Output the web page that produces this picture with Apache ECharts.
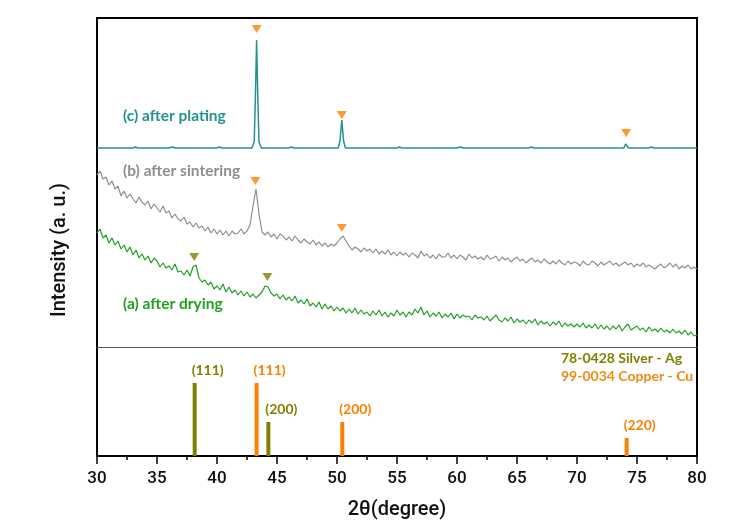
<!DOCTYPE html>
<html>
<head>
<meta charset="utf-8">
<script src="https://cdn.jsdelivr.net/npm/echarts@6/dist/echarts.min.js"></script>
<style>html,body{margin:0;padding:0;background:#fff;}#main{width:750px;height:525px;}</style>
</head>
<body>
<div id="main"></div>
<script>
// ---- data ----
const thetaStart = 30;      // first sample of the scanned patterns (degrees)
const thetaStep = 0.25;     // sampling step of the scanned patterns (degrees)

// (a) after drying — intensity, offset units
const dryingValues = [
114,118,109,112, 104,109,102,106, 98,102,95,100, 92,97,89,93, 87,91,84,89,
86,80,84,79, 81,77,83,75, 76,72,77,71, 80,82,69,65, 67,62,65,58,
61,57,63,55, 60,54,57,52, 56,51,55,50, 53,49,52,55, 61,60,54,51,
53,48,52,47, 50,46,51,44, 47,43,48,41, 44,40,45,38, 43,38,41,36,
40,36,39,34, 38,34,39,33, 37,33,35,31, 36,32,37,31, 35,30,34,31,
37,32,35,30, 35,32,38,34, 40,32,36,30, 34,31,35,29, 33,30,34,28,
33,29,32,30, 31,27,32,29, 30,27,31,26, 29,32,27,25, 29,26,30,24,
28,25,27,23, 27,24,28,22, 26,23,25,21, 25,22,26,20, 24,21,23,20,
23,20,24,19, 22,19,23,18, 22,18,21,17, 21,18,22,16, 20,23,17,19,
21,17,19,15, 20,16,18,15, 19,15,17,14, 18,14,16,13, 17,12,15,11,
12
];

// (b) after sintering
const sinteringValues = [
172,176,168,170, 162,166,158,161, 151,156,149,153, 148,144,150,145, 142,146,138,143,
139,135,141,134, 136,129,133,128, 126,130,123,125, 120,124,119,121, 116,120,114,118,
113,117,112,116, 111,116,113,114, 118,113,116,122, 141,158,133,115, 112,115,110,113,
108,113,111,107, 110,106,111,107, 104,108,105,103, 107,102,105,101, 104,100,103,101,
104,108,111,106, 101,97,100,98, 95,99,96,98, 94,98,93,96, 93,97,92,95,
91,95,92,94, 90,94,92,89, 96,91,93,89, 92,88,93,90, 90,94,89,92,
88,92,90,87, 93,89,91,88, 90,87,92,88, 89,91,86,90, 87,89,85,88,
90,86,88,84, 87,89,85,87, 84,88,85,83, 86,83,87,84, 82,86,83,85,
84,81,86,83, 82,86,84,81, 85,82,84,86, 82,84,81,83, 85,82,84,80,
83,81,84,80, 82,80,78,81, 83,79,81,84, 80,83,78,81, 79,82,78,80,
78
];

// (c) after plating — [2θ, intensity]
const platingPoints = [
[30,199],[33,199],[33.2,200],[33.4,199],[36,199],[36.3,200],[36.5,199],[40,199],[40.2,200],[40.4,199],
[42.9,199],[43.1,205],[43.2,250],[43.3,307],[43.4,250],[43.5,205],[43.7,199],
[46,199],[46.2,200],[46.4,199],[50.1,199],[50.25,206],[50.4,227],[50.55,206],[50.7,199],
[55,199],[55.2,200],[55.4,199],[60,199],[60.3,200],[60.5,199],[66,199],[66.2,200],[66.4,199],
[73.9,199],[74.05,203],[74.1,205],[74.15,203],[74.3,199],[76,199],[76.2,200],[76.4,199],[80,199]
];

// peak markers
const cuMarkers = [[43.3,318],[50.4,232],[74.1,214],[43.2,166],[50.4,119]];
const agMarkers = [[38.1,90],[44.2,70]];

// reference cards (lower panel)
const agRefPos = [38.14, 44.28];
const agRefHeight = [73, 34];
const agRefHkl = ['(111)', '(200)'];
const cuRefPos = [43.3, 50.44, 74.14];
const cuRefHeight = [73, 34, 18];
const cuRefHkl = ['(111)', '(200)', '(220)'];

const xTicks = ['30','35','40','45','50','55','60','65','70','75','80'];

// ---- build ----
function series(values) {
  return values.map((v, i) => [thetaStart + i * thetaStep, v]);
}
const OLIVE = '#7f7f00', ORANGE = '#ff8000', TEAL = '#23938f', GRAY = '#8e8e8e', GREEN = '#22a022';
const labelFont = 'Lato, "Open Sans", sans-serif';
const axisFont = 'Roboto, "Liberation Sans", Arial, sans-serif';

const chart = echarts.init(document.getElementById('main'));
chart.setOption({
  animation: false,
  grid: [
    { left: 97, right: 53, top: 18, height: 329 },
    { left: 97, right: 53, top: 347, height: 109 },
    { left: 97, right: 53, top: 18, height: 438, show: true, borderColor: '#000', borderWidth: 2, backgroundColor: 'transparent' }
  ],
  xAxis: [
    { gridIndex: 0, type: 'value', min: 30, max: 80, show: false },
    { gridIndex: 1, type: 'value', min: 30, max: 80, interval: 5,
      axisLine: { lineStyle: { color: '#000', width: 2 } },
      axisTick: { show: true, length: 8, lineStyle: { color: '#000', width: 1.5 } },
      minorTick: { show: true, splitNumber: 2, length: 4, lineStyle: { color: '#000', width: 1.5 } },
      splitLine: { show: false },
      axisLabel: { margin: 14, fontSize: 17, fontWeight: 500, color: '#111', fontFamily: axisFont,
        formatter: v => xTicks[Math.round((v - 30) / 5)] },
      name: '2θ(degree)', nameLocation: 'middle', nameGap: 44,
      nameTextStyle: { fontSize: 20, fontWeight: 500, color: '#111', fontFamily: axisFont }
    },
    { gridIndex: 1, type: 'value', min: 30, max: 80, position: 'top',
      axisLine: { show: true, lineStyle: { color: '#555', width: 1 } },
      axisTick: { show: false }, axisLabel: { show: false }, splitLine: { show: false } },
    { gridIndex: 2, type: 'value', min: 30, max: 80, show: false }
  ],
  yAxis: [
    { gridIndex: 0, type: 'value', min: 0, max: 329, show: false },
    { gridIndex: 1, type: 'value', min: 0, max: 109, show: false },
    { gridIndex: 2, type: 'value', min: 0, max: 1, show: false }
  ],
  series: [
    { type: 'line', xAxisIndex: 0, yAxisIndex: 0, data: series(dryingValues), showSymbol: false,
      lineStyle: { color: GREEN, width: 1.2 } },
    { type: 'line', xAxisIndex: 0, yAxisIndex: 0, data: series(sinteringValues), showSymbol: false,
      lineStyle: { color: GRAY, width: 1.2 } },
    { type: 'line', xAxisIndex: 0, yAxisIndex: 0, data: platingPoints, showSymbol: false,
      lineStyle: { color: TEAL, width: 1.5 } },
    { type: 'scatter', xAxisIndex: 0, yAxisIndex: 0, data: cuMarkers, symbol: 'triangle', symbolRotate: 180,
      symbolSize: [10, 8], itemStyle: { color: ORANGE } },
    { type: 'scatter', xAxisIndex: 0, yAxisIndex: 0, data: agMarkers, symbol: 'triangle', symbolRotate: 180,
      symbolSize: [10, 8], itemStyle: { color: OLIVE } },
    { type: 'bar', xAxisIndex: 1, yAxisIndex: 1, barWidth: 4, barGap: '-100%',
      data: agRefPos.map((x, i) => [x, agRefHeight[i]]),
      itemStyle: { color: OLIVE },
      label: { show: true, position: 'top', offset: [13, -1], color: OLIVE, fontSize: 14, fontWeight: 'bold', fontFamily: labelFont,
        formatter: p => agRefHkl[p.dataIndex] } },
    { type: 'bar', xAxisIndex: 1, yAxisIndex: 1, barWidth: 4, barGap: '-100%',
      data: cuRefPos.map((x, i) => [x, cuRefHeight[i]]),
      itemStyle: { color: ORANGE },
      label: { show: true, position: 'top', offset: [13, -1], color: ORANGE, fontSize: 14, fontWeight: 'bold', fontFamily: labelFont,
        formatter: p => cuRefHkl[p.dataIndex] } }
  ],
  graphic: [
    { type: 'text', x: 60, y: 250, rotation: Math.PI / 2,
      style: { text: 'Intensity (a. u.)', fill: '#111', align: 'center', verticalAlign: 'middle',
        textAlign: 'center', textVerticalAlign: 'middle', font: '500 20px ' + axisFont } },
    { type: 'text', left: 123, top: 108, style: { text: '(c) after plating', fill: TEAL, font: 'bold 15.5px ' + labelFont } },
    { type: 'text', left: 123, top: 163, style: { text: '(b) after sintering', fill: GRAY, font: 'bold 15.5px ' + labelFont } },
    { type: 'text', left: 123, top: 296, style: { text: '(a) after drying', fill: GREEN, font: 'bold 15.5px ' + labelFont } },
    { type: 'text', left: 561, top: 351, style: { text: '78-0428 Silver - Ag', fill: OLIVE, font: 'bold 14px ' + labelFont } },
    { type: 'text', left: 561, top: 369, style: { text: '99-0034 Copper - Cu', fill: '#f08a10', font: 'bold 14px ' + labelFont } }
  ]
});
</script>
</body>
</html>
